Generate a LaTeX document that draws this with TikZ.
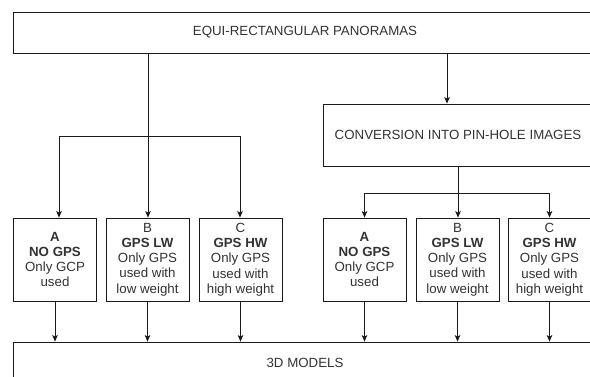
\documentclass[tikz,border=0pt]{standalone}
\usepackage{fontspec}
\setmainfont{Liberation Sans}
\usetikzlibrary{arrows.meta}
\definecolor{txt}{HTML}{333333}
\definecolor{lncol}{HTML}{1A1A1A}
\begin{document}
\begin{tikzpicture}[x=1pt,y=-1pt,
  box/.style={draw=lncol, line width=0.8pt, inner sep=0pt, text=txt, align=center,
              font=\fontsize{13.3}{15.3}\selectfont},
  conn/.style={draw=lncol, line width=0.8pt},
  arr/.style={conn, -{Stealth[length=6.5pt,width=5.5pt,inset=1.5pt]}}]
\useasboundingbox (0,0) rectangle (590,377);
\clip (0,0) rectangle (590,377);
\fill[white] (0,0) rectangle (590,377);
% boxes
\node[box, minimum width=584pt, minimum height=41pt] (top) at (305,32.5) {EQUI-RECTANGULAR PANORAMAS};
\node[box, minimum width=270pt, minimum height=62pt] (conv) at (458,135) {CONVERSION INTO PIN-HOLE IMAGES};
\node[box, minimum width=83pt, minimum height=83pt] (a1) at (55,259.5) {\textbf{A}\\\textbf{NO GPS}\\Only GCP\\used};
\node[box, minimum width=83pt, minimum height=83pt] (b1) at (147.5,259.5) {B\\\textbf{GPS LW}\\Only GPS\\used with\\low weight};
\node[box, minimum width=83pt, minimum height=83pt] (c1) at (240.5,259.5) {C\\\textbf{GPS HW}\\Only GPS\\used with\\high weight};
\node[box, minimum width=83pt, minimum height=83pt] (a2) at (364.5,259.5) {\textbf{A}\\\textbf{NO GPS}\\Only GCP\\used};
\node[box, minimum width=83pt, minimum height=83pt] (b2) at (457.5,259.5) {B\\\textbf{GPS LW}\\Only GPS\\used with\\low weight};
\node[box, minimum width=83pt, minimum height=83pt] (c2) at (549.5,259.5) {C\\\textbf{GPS HW}\\Only GPS\\used with\\high weight};
\node[box, minimum width=584pt, minimum height=42pt] (models) at (305,363) {3D MODELS};
% left branch
\coordinate (s1) at (148,136);
\coordinate (l1) at (59,136);
\coordinate (r1) at (240,136);
\draw[conn] (top.south -| s1) -- (s1);
\draw[conn] (l1) -- (r1);
\draw[arr] (l1) -- (l1 |- a1.north);
\draw[arr] (s1) -- (s1 |- b1.north);
\draw[arr] (r1) -- (r1 |- c1.north);
% right branch
\coordinate (t2) at (447,0);
\draw[arr] (top.south -| t2) -- (conv.north -| t2);
\coordinate (s2) at (458,193);
\coordinate (l2) at (364.5,193);
\coordinate (r2) at (549.5,193);
\draw[conn] (conv.south -| s2) -- (s2);
\draw[conn] (l2) -- (r2);
\draw[arr] (l2) -- (a2.north);
\draw[arr] (s2) -- (s2 |- b2.north);
\draw[arr] (r2) -- (c2.north);
% to models
\foreach \n in {a1,b1,c1,a2,b2,c2}
  \draw[arr] (\n.south) -- (\n.south |- models.north);
\end{tikzpicture}
\end{document}
